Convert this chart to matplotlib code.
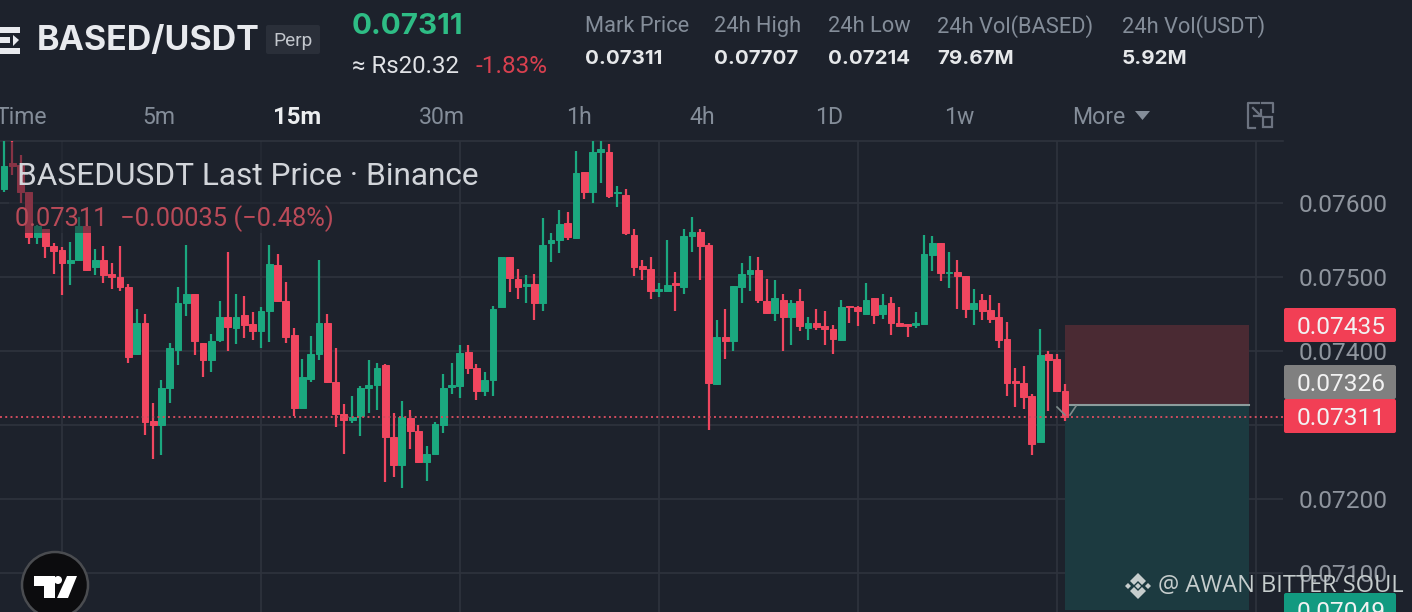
"""BASED/USDT 15m candle chart, dark exchange screen."""

import numpy as np
import matplotlib
matplotlib.use("Agg")
import matplotlib.pyplot as plt
from matplotlib.patches import Circle, Polygon, Rectangle, FancyBboxPatch

# prices in 1e-5 USDT
opens = [7618, 7653, 7651, 7614, 7553, 7565, 7541, 7536, 7518, 7523,
         7568, 7513, 7523, 7503, 7500, 7486, 7395, 7438, 7305, 7299,
         7349, 7401, 7465, 7477, 7411, 7388, 7415, 7445, 7431, 7448,
         7436, 7426, 7454, 7516, 7467, 7421, 7323, 7362, 7395, 7437,
         7358, 7315, 7307, 7312, 7350, 7354, 7381, 7283, 7246, 7309,
         7291, 7250, 7261, 7300, 7351, 7352, 7398, 7376, 7345, 7361,
         7459, 7526, 7497, 7488, 7490, 7464, 7545, 7550, 7572, 7552,
         7641, 7614, 7668, 7669, 7613, 7611, 7557, 7514, 7510, 7481,
         7480, 7491, 7486, 7555, 7560, 7543, 7355, 7418, 7413, 7486,
         7503, 7509, 7467, 7451, 7468, 7445, 7467, 7431, 7437, 7433,
         7429, 7415, 7461, 7459, 7450, 7471, 7450, 7464, 7438, 7436,
         7435, 7436, 7529, 7546, 7505, 7506, 7501, 7456, 7468, 7455,
         7445, 7416, 7359, 7356, 7339, 7276, 7396, 7389, 7346]
closes = [7649, 7650, 7614, 7554, 7568, 7541, 7535, 7519, 7523, 7568,
          7509, 7522, 7502, 7499, 7486, 7392, 7438, 7304, 7299, 7349,
          7403, 7465, 7476, 7413, 7388, 7413, 7446, 7432, 7446, 7435,
          7426, 7453, 7517, 7467, 7419, 7323, 7365, 7395, 7438, 7358,
          7315, 7307, 7311, 7350, 7354, 7377, 7284, 7245, 7310, 7291,
          7249, 7261, 7301, 7350, 7354, 7397, 7377, 7346, 7360, 7457,
          7526, 7498, 7486, 7490, 7464, 7543, 7550, 7571, 7553, 7640,
          7614, 7668, 7672, 7609, 7614, 7559, 7513, 7510, 7481, 7483,
          7489, 7489, 7555, 7561, 7542, 7357, 7418, 7413, 7487, 7503,
          7509, 7468, 7451, 7471, 7445, 7465, 7433, 7438, 7432, 7429,
          7416, 7459, 7459, 7453, 7469, 7448, 7462, 7437, 7434, 7434,
          7437, 7530, 7545, 7505, 7507, 7501, 7457, 7465, 7453, 7443,
          7415, 7357, 7357, 7338, 7274, 7394, 7388, 7346, 7311]
highs = [7685, 7685, 7664, 7614, 7570, 7565, 7546, 7540, 7547, 7581,
         7570, 7537, 7541, 7519, 7541, 7490, 7456, 7450, 7330, 7361,
         7410, 7486, 7543, 7477, 7411, 7422, 7467, 7533, 7477, 7474,
         7452, 7459, 7543, 7531, 7493, 7430, 7389, 7420, 7523, 7450,
         7404, 7328, 7339, 7352, 7388, 7384, 7382, 7316, 7332, 7320,
         7300, 7271, 7303, 7369, 7384, 7408, 7408, 7382, 7371, 7461,
         7527, 7527, 7510, 7502, 7504, 7579, 7559, 7590, 7587, 7670,
         7641, 7685, 7685, 7680, 7622, 7619, 7564, 7522, 7526, 7491,
         7549, 7507, 7564, 7581, 7565, 7546, 7441, 7457, 7487, 7519,
         7528, 7527, 7497, 7496, 7477, 7469, 7484, 7445, 7457, 7454,
         7435, 7468, 7461, 7461, 7492, 7471, 7477, 7472, 7459, 7436,
         7452, 7556, 7555, 7546, 7534, 7523, 7501, 7484, 7477, 7475,
         7465, 7439, 7376, 7380, 7342, 7429, 7400, 7396, 7355]
lows = [7615, 7637, 7599, 7544, 7544, 7525, 7504, 7475, 7489, 7523,
        7508, 7502, 7492, 7484, 7481, 7383, 7394, 7286, 7254, 7259,
        7329, 7381, 7447, 7394, 7365, 7371, 7412, 7400, 7409, 7417,
        7415, 7403, 7412, 7466, 7410, 7312, 7322, 7358, 7387, 7357,
        7297, 7260, 7302, 7285, 7316, 7320, 7223, 7229, 7215, 7267,
        7248, 7224, 7261, 7289, 7341, 7336, 7368, 7334, 7339, 7339,
        7459, 7479, 7470, 7465, 7441, 7454, 7520, 7532, 7550, 7552,
        7605, 7600, 7627, 7607, 7594, 7557, 7501, 7495, 7470, 7473,
        7479, 7454, 7477, 7534, 7496, 7293, 7354, 7389, 7400, 7465,
        7481, 7465, 7450, 7440, 7400, 7408, 7427, 7414, 7428, 7408,
        7396, 7415, 7437, 7433, 7450, 7436, 7443, 7421, 7433, 7418,
        7431, 7436, 7508, 7494, 7485, 7457, 7444, 7435, 7441, 7437,
        7403, 7339, 7324, 7321, 7259, 7276, 7318, 7345, 7305]

price_ticks = [0.07100, 0.07200, 0.07300, 0.07400, 0.07500, 0.07600]
tick_labels = ["0.07100", "0.07200", "", "0.07400", "0.07500", "0.07600"]
time_ticks = [7, 31, 55, 79, 103, 127, 151]

last_price = 0.07311
stop_price = 0.07435
entry_price = 0.07326
target_price = 0.07049

stat_names = ["Mark Price", "24h High", "24h Low", "24h Vol(BASED)", "24h Vol(USDT)"]
stat_values = ["0.07311", "0.07707", "0.07214", "79.67M", "5.92M"]
stat_x = [585, 714, 828, 937, 1122]
intervals = ["Time", "5m", "15m", "30m", "1h", "4h", "1D", "1w", "More"]
interval_x = [-4, 142, 273, 419, 566, 689, 815, 944, 1072]

BG = "#1d222c"
GRID = "#2e333d"
GREEN = "#1ba87f"
RED = "#f0465f"
GREY = "#848d99"
W, H = 1412, 612
STEP = 8.289  # px per candle
PX_PER_PRICE = 74000.0


def fpx(size):
    return size * 0.72


fig = plt.figure(figsize=(W / 100, H / 100), dpi=100, facecolor=BG)
plt.rcParams["font.family"] = ["Roboto", "DejaVu Sans"]

# chart area, y=141..612 and x=0..1283 in image pixels
ax = fig.add_axes([0, 0, 1283 / W, (H - 141) / H], facecolor=BG)
ax.set_xlim(-4 / STEP, (1283 - 4) / STEP)
y_bottom = 0.076 - (612 - 202.7) / PX_PER_PRICE
y_top = 0.076 - (141 - 202.7) / PX_PER_PRICE
ax.set_ylim(y_bottom, y_top)
for side in ["left", "right", "bottom"]:
    ax.spines[side].set_visible(False)
ax.spines["top"].set_color(GRID)
ax.spines["top"].set_linewidth(1.2)

ax.set_xticks(time_ticks)
ax.set_xticklabels([])
ax.set_yticks(price_ticks)
ax.set_yticklabels(tick_labels, fontsize=fpx(24.5), color="#8f959e")
ax.yaxis.tick_right()
ax.tick_params(axis="both", length=0)
ax.tick_params(axis="y", pad=11)
ax.grid(True, color=GRID, linewidth=1.2, zorder=0)
ax.set_axisbelow(True)

o = np.array(opens) / 1e5
c = np.array(closes) / 1e5
h = np.array(highs) / 1e5
l = np.array(lows) / 1e5
x = np.arange(len(o))
colors = [GREEN if c[i] >= o[i] else RED for i in range(len(o))]

# position box
ax.add_patch(Rectangle((128, entry_price), 22.2, stop_price - entry_price,
                       facecolor="#4a2a33", edgecolor="none", zorder=1))
ax.add_patch(Rectangle((128, target_price), 22.2, entry_price - target_price,
                       facecolor="#1c3a40", edgecolor="none", zorder=1))
ax.plot([128, 150.2], [entry_price, entry_price], color="#8d9c9c", lw=1.5, zorder=2)

ax.vlines(x, l, h, colors=colors, linewidth=1.6, zorder=3)
ax.bar(x, np.abs(c - o), bottom=np.minimum(o, c), width=0.82, color=colors,
       edgecolor=colors, linewidth=0.7, zorder=4)

ax.axhline(last_price, color="#d04c5e", lw=1.4, ls=(0, (1, 1.7)), zorder=5)

# overlay in image pixel coordinates
ov = fig.add_axes([0, 0, 1, 1], facecolor="none")
ov.set_xlim(0, W)
ov.set_ylim(H, 0)
ov.axis("off")


def label(xp, yp, s, size, color, **kw):
    # +2.5: va=center sits a little high against the screenshot
    return ov.text(xp, yp + 2.5, s, fontsize=fpx(size), color=color, va="center", **kw)


# dim layer under the legend
ov.add_patch(Rectangle((9, 142), 331, 91, facecolor=BG, alpha=0.5, edgecolor="none"))
label(17, 174, "BASEDUSDT Last Price · Binance", 31.6, "#d2d5da")
label(15, 216, "0.07311  −0.00035 (−0.48%)", 25.5, "#b94a58")

# open marker
ov.plot([1057, 1065], [407, 415], color="#7f8c8c", lw=1.2)
ov.plot([1070, 1076], [415, 406], color="#7f8c8c", lw=1.2)

# price tags
tags = [(stop_price, "0.07435", "#f23f55", 325), (entry_price, "0.07326", "#808080", 382),
        (last_price, "0.07311", "#f23f55", 416), (target_price, "0.07049", "#129a80", 610)]
for value, tag_text, color, yc in tags:
    ov.add_patch(FancyBboxPatch((1284, yc - 17), 112, 34, boxstyle="round,pad=0,rounding_size=2",
                                facecolor=color, edgecolor="none"))
    label(1341, yc, tag_text, 24.5, "#f2f2f2", ha="center")

# header
label(37, 39, "BASED/USDT", 34, "#e8eaee", fontweight="bold", family=["Inter", "DejaVu Sans"])
ov.add_patch(FancyBboxPatch((266, 25), 54, 29, boxstyle="round,pad=0,rounding_size=2",
                            facecolor="#2a2f39", edgecolor="none"))
label(293, 39, "Perp", 19, "#c3c7cd", ha="center")
for yb in [27, 37, 48]:
    ov.add_patch(Rectangle((0, yb), 20 if yb != 37 else 10, 6, facecolor="#e8eaee", edgecolor="none"))
ov.add_patch(Polygon([[13, 35], [19, 40], [13, 46]], facecolor="#e8eaee", edgecolor="none"))

label(352, 24, "0.07311", 29.5, "#2ebd85", fontweight="bold", family=["Inter", "DejaVu Sans"])
label(352, 64, "≈ Rs20.32", 24, "#e0e2e6")
label(476, 64, "-1.83%", 24.3, "#d8404f")

for xs, name, val in zip(stat_x, stat_names, stat_values):
    label(xs, 24, name, 21.9, GREY)
    label(xs, 56, val, 20.5, "#e6e8ea", fontweight="bold", family=["Inter", "DejaVu Sans"])

for xs, name in zip(interval_x, intervals):
    active = name == "15m"
    label(xs, 115, name, 24 if active else 23, "#eceef0" if active else GREY,
          fontweight="bold" if active else "normal")
ov.add_patch(Polygon([[1135, 111], [1150, 111], [1142.5, 120]], facecolor=GREY, edgecolor="none"))

# layout icon
ov.plot([1259, 1248, 1248, 1255], [103, 103, 128, 128], color="#6c7380", lw=1.6)
ov.plot([1262, 1273, 1273], [103, 103, 112], color="#6c7380", lw=1.6)
ov.add_patch(Rectangle((1263, 117), 9, 10, facecolor="none", edgecolor="#6c7380", lw=1.6))
ov.plot([1253, 1261], [108, 116], color="#6c7380", lw=1.6)
ov.plot([1261, 1261, 1254], [110, 116, 116], color="#6c7380", lw=1.6)

# TV badge
ov.add_patch(Circle((55, 585), 33, facecolor="#0c0c0e", edgecolor="#4a4c50", lw=1.8, zorder=6))
ov.add_patch(Polygon([[34, 576], [55, 576], [55, 598], [44, 598], [44, 586], [34, 586]],
                     facecolor="white", edgecolor="none", zorder=7))
ov.add_patch(Circle((58, 580), 4, facecolor="white", edgecolor="none", zorder=7))
ov.add_patch(Polygon([[67, 576], [77, 576], [68, 598], [57, 598]], facecolor="white",
                     edgecolor="none", zorder=7))

# watermark
WM = "#c6cdcd"
ov.add_patch(Polygon([[1138, 573], [1146, 581], [1142, 585], [1138, 581], [1134, 585], [1130, 581]],
                     facecolor=WM, edgecolor="none", zorder=7))
ov.add_patch(Polygon([[1138, 599], [1146, 591], [1142, 587], [1138, 591], [1134, 587], [1130, 591]],
                     facecolor=WM, edgecolor="none", zorder=7))
for cx in [1128, 1148, 1138]:
    ov.add_patch(Polygon([[cx, 583], [cx + 3, 586], [cx, 589], [cx - 3, 586]], facecolor=WM,
                         edgecolor="none", zorder=7))
label(1158, 583.5, "@ AWAN BITTER SOUL", 23.6, WM, family=["Open Sans", "DejaVu Sans"], zorder=7)

fig.savefig("out.png", dpi=100, facecolor=BG)
